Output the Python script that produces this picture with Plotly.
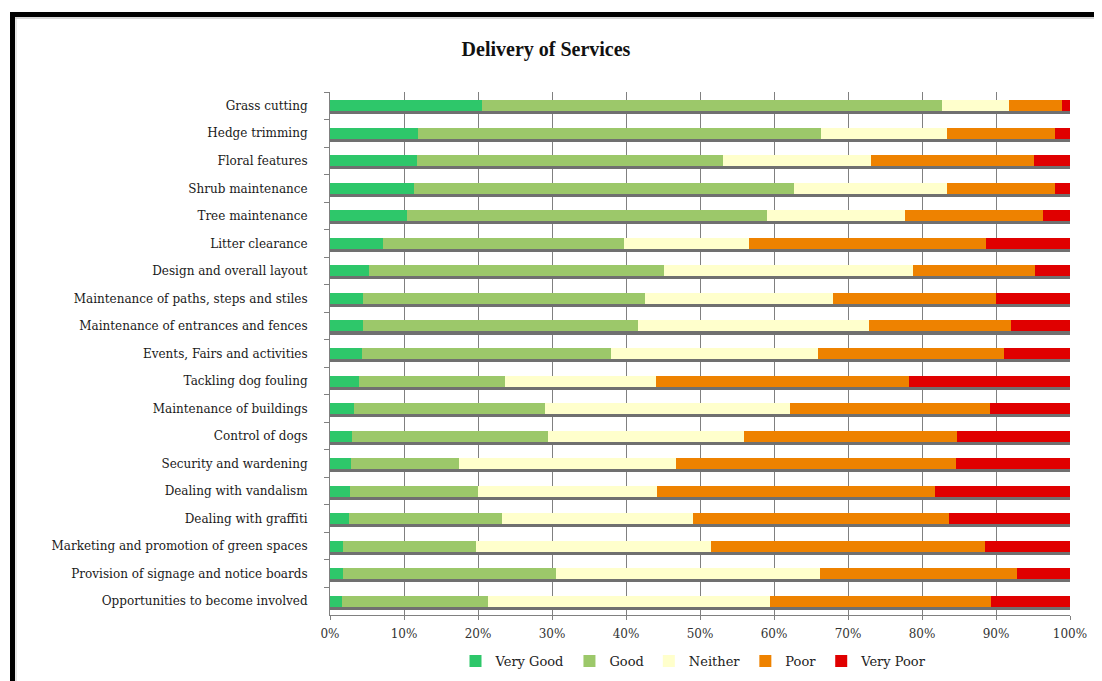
import plotly.graph_objects as go

categories = [
    "Grass cutting",
    "Hedge trimming",
    "Floral features",
    "Shrub maintenance",
    "Tree maintenance",
    "Litter clearance",
    "Design and overall layout",
    "Maintenance of paths, steps and stiles",
    "Maintenance of entrances and fences",
    "Events, Fairs and activities",
    "Tackling dog fouling",
    "Maintenance of buildings",
    "Control of dogs",
    "Security and wardening",
    "Dealing with vandalism",
    "Dealing with graffiti",
    "Marketing and promotion of green spaces",
    "Provision of signage and notice boards",
    "Opportunities to become involved",
]

very_good = [20.6, 11.9, 11.7, 11.4, 10.4, 7.2, 5.3, 4.4, 4.4, 4.3, 3.9, 3.2, 3.0, 2.9, 2.7, 2.5, 1.8, 1.7, 1.6]
good      = [62.1, 54.4, 41.4, 51.3, 48.6, 32.5, 39.8, 38.2, 37.2, 33.7, 19.7, 25.9, 26.4, 14.5, 17.3, 20.7, 17.9, 28.9, 19.8]
neither   = [9.1, 17.1, 20.0, 20.7, 18.7, 16.9, 33.7, 25.4, 31.2, 27.9, 20.5, 33.0, 26.5, 29.4, 24.2, 25.8, 31.8, 35.6, 38.1]
poor      = [7.1, 14.6, 22.1, 14.6, 18.6, 32.1, 16.5, 22.0, 19.2, 25.2, 34.2, 27.1, 28.8, 37.8, 37.6, 34.7, 37.0, 26.7, 29.8]
very_poor = [1.1, 2.0, 4.8, 2.0, 3.7, 11.3, 4.7, 10.0, 8.0, 8.9, 21.7, 10.8, 15.3, 15.4, 18.2, 16.3, 11.5, 7.1, 10.7]

series_names = ["Very Good", "Good", "Neither", "Poor", "Very Poor"]
series_values = [very_good, good, neither, poor, very_poor]
series_colors = ["#2EC76A", "#9CC86A", "#FFFFCC", "#EE8200", "#E00000"]

x_tick_values = [0, 10, 20, 30, 40, 50, 60, 70, 80, 90, 100]
x_tick_labels = ["0%", "10%", "20%", "30%", "40%", "50%", "60%", "70%", "80%", "90%", "100%"]

# page offset (browser body margin)
OFF = 8
W, H = 1102 - OFF, 681 - OFF
ML, MR, MT, MB = 330 - OFF, 32, 92 - OFF, 66
PW, PH = W - ML - MR, H - MT - MB


def px2x(px):
    return (px - OFF - ML) / PW


def py2y(py):
    return (H - MB - (py - OFF)) / PH


totals = [sum(v) for v in zip(*series_values)]

fig = go.Figure()

# shadow under each bar
fig.add_trace(go.Bar(
    y=categories, x=totals, orientation="h",
    marker=dict(color="#707070", line=dict(width=0)),
    showlegend=False, hoverinfo="skip", yaxis="y",
))

for name, vals, col in zip(series_names, series_values, series_colors):
    fig.add_trace(go.Bar(
        y=categories, x=vals, orientation="h", name=name,
        marker=dict(color=col, line=dict(width=0)),
        yaxis="y2",
    ))

n = len(categories)
shift = 0.11

fig.update_layout(
    width=W, height=H,
    margin=dict(l=ML, r=MR, t=MT, b=MB, autoexpand=False),
    paper_bgcolor="white", plot_bgcolor="white",
    barmode="stack", bargap=0.6,
    title=dict(
        text="<b>Delivery of Services</b>",
        font=dict(family="Liberation Serif", size=20, color="#111111"),
        x=(546 - OFF) / W, xanchor="center", xref="container",
        y=1 - (49 - OFF) / H, yanchor="middle", yref="container",
    ),
    xaxis=dict(
        range=[0, 100], tickvals=x_tick_values, ticktext=x_tick_labels,
        showgrid=True, gridcolor="#808080", gridwidth=1,
        showline=True, linecolor="#808080", linewidth=1,
        ticks="outside", ticklen=4, tickcolor="#808080",
        tickfont=dict(family="DejaVu Serif", size=12, color="#333333"),
        zeroline=False, ticklabelstandoff=4,
    ),
    yaxis=dict(
        type="category", categoryorder="array", categoryarray=categories,
        range=[n - 0.5 - shift, -0.5 - shift],
        showticklabels=False, showgrid=False, showline=False, ticks="",
        zeroline=False,
    ),
    yaxis2=dict(
        type="category", categoryorder="array", categoryarray=categories,
        range=[n - 0.5, -0.5], overlaying="y", side="left",
        showgrid=False, showline=True, linecolor="#808080", linewidth=1,
        ticks="outside", tickson="boundaries", ticklen=5, tickcolor="#808080",
        tickfont=dict(family="DejaVu Serif", size=12, color="#1a1a1a"),
        ticklabelstandoff=19, zeroline=False,
    ),
    legend=dict(
        orientation="h", x=px2x(694), xanchor="center", y=py2y(661), yanchor="middle",
        font=dict(family="DejaVu Serif", size=13, color="#222222"),
        bgcolor="rgba(0,0,0,0)", traceorder="normal",
    ),
    shapes=[
        dict(type="rect", xref="paper", yref="paper",
             x0=px2x(10), x1=px2x(1110), y0=py2y(12), y1=py2y(17),
             fillcolor="black", line=dict(width=0), layer="above"),
        dict(type="rect", xref="paper", yref="paper",
             x0=px2x(10), x1=px2x(15), y0=py2y(12), y1=py2y(690),
             fillcolor="black", line=dict(width=0), layer="above"),
        dict(type="line", xref="paper", yref="paper",
             x0=px2x(15), x1=px2x(1110), y0=py2y(18), y1=py2y(18),
             line=dict(color="#b0b0b0", width=1), layer="above"),
        dict(type="line", xref="paper", yref="paper",
             x0=px2x(16), x1=px2x(16), y0=py2y(17), y1=py2y(690),
             line=dict(color="#d0d0d0", width=1), layer="above"),
    ],
)

fig.write_html("out.html")
